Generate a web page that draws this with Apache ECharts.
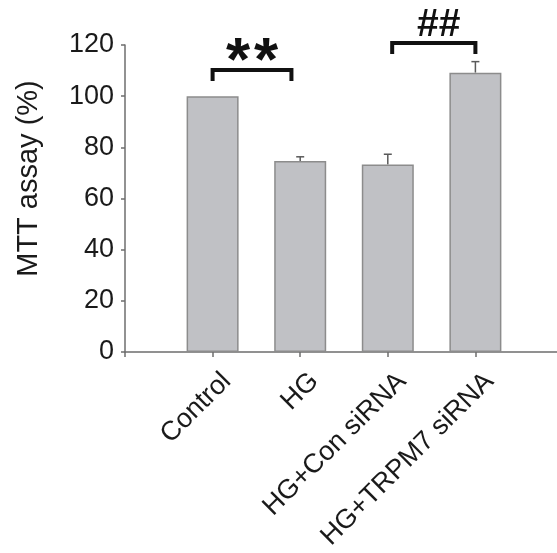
<!DOCTYPE html>
<html>
<head>
<meta charset="utf-8">
<script src="https://cdn.jsdelivr.net/npm/echarts@6/dist/echarts.min.js"></script>
<style>
html,body{margin:0;padding:0;background:#fff;}
#chart{width:557px;height:553px;}
</style>
</head>
<body>
<div id="chart"></div>
<script>
// ---- data ----
var categories = ['', 'Control', 'HG', 'HG+Con siRNA', 'HG+TRPM7 siRNA', ''];
var meanValues = [null, 100, 74.7, 73.3, 109.2, null];
var errorValues = [null, 0, 1.6, 4.0, 4.3, null];
var yTicks = [0, 20, 40, 60, 80, 100, 120];
var bracketStart = [1, 3.05];
var bracketEnd = [1.9, 4];
var bracketY = [110.2, 120.8];
var bracketText = ['**', '##'];

var FONT = '"Liberation Sans", Arial, sans-serif';

var errData = [];
for (var i = 0; i < categories.length; i++) {
  if (meanValues[i] != null && errorValues[i] > 0) errData.push([i, meanValues[i], errorValues[i]]);
}
var brData = [];
for (var j = 0; j < bracketStart.length; j++) {
  brData.push([bracketStart[j], bracketEnd[j], bracketY[j], j]);
}

var chart = echarts.init(document.getElementById('chart'));
chart.setOption({
  backgroundColor: '#fff',
  animation: false,
  grid: {left: 125, top: 45, right: -6, bottom: 201, containLabel: false, outerBoundsMode: 'none'},
  xAxis: {
    type: 'category',
    data: categories,
    boundaryGap: false,
    axisLine: {lineStyle: {color: '#6e6e6e', width: 1.5}},
    axisTick: {show: true, length: 5, lineStyle: {color: '#6e6e6e', width: 1.5}},
    axisLabel: {
      rotate: 45, fontFamily: FONT, fontSize: 27, color: '#1a1a1a', margin: 11,
      interval: 0, verticalAlign: 'top', lineHeight: 40
    },
    splitLine: {show: false}
  },
  yAxis: {
    type: 'value',
    min: yTicks[0], max: yTicks[yTicks.length - 1], interval: 20,
    name: 'MTT assay (%)',
    nameLocation: 'middle',
    nameGap: 82,
    nameTextStyle: {fontFamily: FONT, fontSize: 29, color: '#1a1a1a', padding: [0, 0, 0, 40]},
    axisLine: {show: true, lineStyle: {color: '#6e6e6e', width: 1.5}},
    axisTick: {show: true, length: 4, lineStyle: {color: '#6e6e6e', width: 1.5}},
    axisLabel: {fontFamily: FONT, fontSize: 27, color: '#1a1a1a', margin: 11},
    splitLine: {show: false}
  },
  series: [
    {
      type: 'bar',
      data: meanValues,
      barWidth: 52,
      itemStyle: {color: '#c0c1c5', borderColor: '#8c8c8c', borderWidth: 1.5},
      z: 2
    },
    {
      type: 'custom',
      data: errData,
      z: 1,
      renderItem: function (params, api) {
        var x = api.value(0), m = api.value(1), e = api.value(2);
        var top = api.coord([x, m + e]);
        var base = api.coord([x, m]);
        var half = 4;
        return {
          type: 'group',
          children: [
            {type: 'line', shape: {x1: top[0], y1: top[1], x2: base[0], y2: base[1]},
             style: {stroke: '#5a5a5a', lineWidth: 1.5}},
            {type: 'line', shape: {x1: top[0] - half, y1: top[1], x2: top[0] + half, y2: top[1]},
             style: {stroke: '#5a5a5a', lineWidth: 1.5}}
          ]
        };
      }
    },
    {
      type: 'custom',
      data: brData,
      clip: false,
      z: 5,
      renderItem: function (params, api) {
        var s = api.value(0), e = api.value(1), y = api.value(2), k = api.value(3);
        var band = api.size([1, 0])[0];
        var s0 = Math.floor(s), e0 = Math.floor(e);
        var p1 = api.coord([s0, y]); p1[0] += (s - s0) * band;
        var p2 = api.coord([e0, y]); p2[0] += (e - e0) * band;
        var leg = 11;
        var txt = bracketText[k];
        var cx = (p1[0] + p2[0]) / 2;
        var children = [
          {type: 'polyline',
           shape: {points: [[p1[0], p1[1] + leg], [p1[0], p1[1]], [p2[0], p2[1]], [p2[0], p2[1] + leg]]},
           style: {stroke: '#111', lineWidth: 4, fill: null, lineJoin: 'miter'}}
        ];
        if (txt === '**') {
          [-14, 14].forEach(function (dx) {
            children.push({type: 'text',
              style: {text: '*', x: cx + dx, y: p1[1] - 7, textAlign: 'center', textVerticalAlign: 'middle',
                      font: 'bold 62px ' + FONT, fill: '#111'}});
          });
        } else {
          children.push({type: 'text',
            style: {text: txt, x: cx + 5, y: p1[1] + 2, textAlign: 'center', textVerticalAlign: 'bottom',
                    font: 'bold 39px ' + FONT, fill: '#111'}});
        }
        return {type: 'group', children: children};
      }
    }
  ]
});
</script>
</body>
</html>
